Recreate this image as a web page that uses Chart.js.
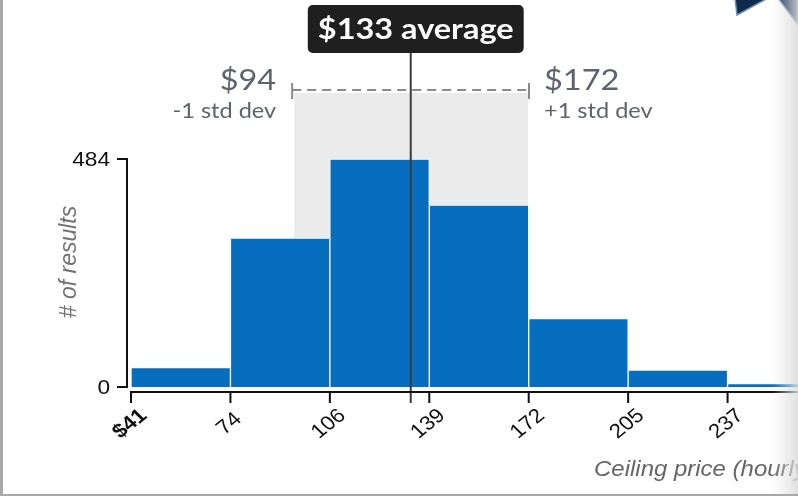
<!DOCTYPE html>
<html>
<head>
<meta charset="utf-8">
<script src="https://cdn.jsdelivr.net/npm/chart.js@4.4.0/dist/chart.umd.min.js"></script>
<style>
  html, body { margin: 0; padding: 0; background: #fff; overflow: hidden; width: 798px; height: 496px; }
  #wrap { position: absolute; left: 0; top: 0; width: 840px; height: 496px; }
  .edge-left { position: absolute; left: 0; top: 0; width: 3px; height: 496px; background: #a9a9a9; }
  .edge-bottom { position: absolute; left: 0; top: 494px; width: 798px; height: 2px; background: #a9a9a9; }
  .edge-right { position: absolute; left: 772px; top: 0; width: 26px; height: 496px;
    background: linear-gradient(to right, rgba(235,235,235,0), rgba(220,220,220,0.85)); }
  .badge { position: absolute; left: 728px; top: 0; }
</style>
</head>
<body>
<div id="wrap"><canvas id="hist"></canvas></div>
<svg class="badge" width="70" height="30">
  <polygon points="7,-2 9,15 40,-2" fill="#0e2a4c" stroke="#6d8fb5" stroke-width="1.5"/>
  <polygon points="50,-2 70,25 70,-2" fill="#0e2a4c" stroke="#6d8fb5" stroke-width="1.5"/>
</svg>
<div class="edge-right"></div>
<div class="edge-left"></div>
<div class="edge-bottom"></div>
<script>
// histogram bins (ceiling price, hourly)
const binLabels = ['$41', '74', '106', '139', '172', '205', '237'];
const binEdges = [41, 73.7, 106.4, 139.1, 171.9, 204.6, 237.3, 270];
const counts = [41, 316, 484, 386, 145, 36, 7];
const yTicks = [0, 484];

const average = 133;
const stdLow = 94;
const stdHigh = 172;

const BLUE = '#066dbf';
const GREY_TEXT = '#5d646d';
const STRETCH = 1.12; // source screenshot is a bit wide

// price -> pixel through the category scale (bin i spans i-0.5 .. i+0.5)
const priceToPixel = (scale, v) => {
  let i = 0;
  while (i < binEdges.length - 2 && v > binEdges[i + 1]) i++;
  const frac = (v - binEdges[i]) / (binEdges[i + 1] - binEdges[i]);
  return scale.getPixelForValue(i - 0.5 + frac);
};

const wideText = (ctx, text, x, y, align, sx = STRETCH) => {
  ctx.save();
  ctx.translate(x, y);
  ctx.scale(sx, 1);
  ctx.textAlign = align;
  ctx.fillText(text, 0, 0);
  ctx.restore();
};

const overlay = {
  id: 'overlay',
  beforeDatasetsDraw(chart) {
    const { ctx, scales: { x, y } } = chart;
    const x0 = priceToPixel(x, stdLow);
    const x1 = priceToPixel(x, stdHigh);
    ctx.save();
    ctx.fillStyle = '#ebebeb';
    ctx.fillRect(x0 + 2, 93, x1 - x0 - 3, y.getPixelForValue(0) - 93);
    ctx.restore();
  },
  afterDatasetsDraw(chart) {
    const { ctx, chartArea, scales: { x, y } } = chart;
    const x0 = priceToPixel(x, stdLow);
    const x1 = priceToPixel(x, stdHigh);
    const xa = priceToPixel(x, average);
    const y0 = y.getPixelForValue(0);
    ctx.save();

    // std dev bracket
    ctx.strokeStyle = '#8a8a8a';
    ctx.lineWidth = 2;
    ctx.setLineDash([9, 6]);
    ctx.beginPath();
    ctx.moveTo(x0, 90);
    ctx.lineTo(x1, 90);
    ctx.stroke();
    ctx.setLineDash([]);
    ctx.beginPath();
    ctx.moveTo(x0, 83); ctx.lineTo(x0, 99);
    ctx.moveTo(x1, 83); ctx.lineTo(x1, 99);
    ctx.stroke();

    ctx.fillStyle = GREY_TEXT;
    ctx.textBaseline = 'alphabetic';
    ctx.font = '29px Lato, "Open Sans", sans-serif';
    wideText(ctx, '$' + stdLow, x0 - 16, 90, 'right');
    wideText(ctx, '$' + stdHigh, x1 + 15, 90, 'left');
    ctx.font = '21px Lato, "Open Sans", sans-serif';
    wideText(ctx, '-1 std dev', x0 - 16, 118, 'right');
    wideText(ctx, '+1 std dev', x1 + 15, 118, 'left');

    // average line and label
    ctx.strokeStyle = '#3a3a3a';
    ctx.lineWidth = 2;
    ctx.beginPath();
    ctx.moveTo(xa, 53);
    ctx.lineTo(xa, y0 + 16);
    ctx.stroke();

    const label = '$' + average + ' average';
    ctx.font = 'bold 29px Lato, "Open Sans", sans-serif';
    const w = ctx.measureText(label).width * STRETCH + 20;
    const cx = xa + 5;
    ctx.fillStyle = '#1f1f1f';
    ctx.beginPath();
    ctx.roundRect(cx - w / 2, 5, w, 48, 5);
    ctx.fill();
    ctx.fillStyle = '#fff';
    ctx.textBaseline = 'middle';
    wideText(ctx, label, cx, 30, 'center');

    // axes
    ctx.strokeStyle = '#111';
    ctx.lineWidth = 2;
    const ax = chartArea.left - 4;
    ctx.beginPath();
    ctx.moveTo(ax, y.getPixelForValue(yTicks[1]));
    ctx.lineTo(ax, y0 + 1);
    yTicks.forEach(v => {
      const py = y.getPixelForValue(v);
      ctx.moveTo(ax - 10, py);
      ctx.lineTo(ax + 1, py);
    });
    const ay = y0 + 5;
    ctx.moveTo(priceToPixel(x, binEdges[0]) - 1, ay);
    ctx.lineTo(chartArea.right, ay);
    binLabels.forEach((_, i) => {
      const px = priceToPixel(x, binEdges[i]);
      ctx.moveTo(px, ay);
      ctx.lineTo(px, ay + 11);
    });
    ctx.stroke();

    // tick labels
    ctx.fillStyle = '#111';
    ctx.textBaseline = 'middle';
    ctx.font = '21px "Liberation Sans", Arial, sans-serif';
    yTicks.forEach(v => {
      wideText(ctx, String(v), ax - 17, y.getPixelForValue(v) + 1, 'right', 1.08);
    });
    ctx.textAlign = 'center';
    binLabels.forEach((t, i) => {
      const px = priceToPixel(x, binEdges[i]);
      ctx.save();
      ctx.translate(px - 1, ay + 32);
      ctx.scale(STRETCH, 1);
      ctx.rotate(-42 * Math.PI / 180);
      ctx.font = (i === 0 ? 'bold ' : '') + '20px "Liberation Sans", Arial, sans-serif';
      ctx.fillText(t, 0, 0);
      ctx.restore();
    });

    // axis titles
    ctx.fillStyle = '#737373';
    ctx.font = 'italic 23px "Liberation Sans", Arial, sans-serif';
    ctx.save();
    ctx.translate(70, 262);
    ctx.rotate(-Math.PI / 2);
    ctx.fillText('# of results', 0, 0);
    ctx.restore();
    ctx.fillStyle = '#666';
    ctx.font = 'italic 22px "Liberation Sans", Arial, sans-serif';
    ctx.textBaseline = 'alphabetic';
    wideText(ctx, 'Ceiling price (hourly)', 594, 476, 'left', 1.09);

    ctx.restore();
  }
};

new Chart(document.getElementById('hist'), {
  type: 'bar',
  plugins: [overlay],
  data: {
    labels: binLabels,
    datasets: [{
      data: counts,
      backgroundColor: BLUE,
      borderColor: '#ffffff',
      borderWidth: 1,
      borderSkipped: 'bottom',
      barPercentage: 1,
      categoryPercentage: 1
    }]
  },
  options: {
    responsive: true,
    maintainAspectRatio: false,
    animation: false,
    layout: { padding: { top: 159, bottom: 109, left: 0, right: 13 } },
    plugins: { legend: { display: false }, tooltip: { enabled: false } },
    scales: {
      x: { display: false },
      y: {
        min: 0,
        max: yTicks[1],
        afterBuildTicks: s => { s.ticks = yTicks.map(v => ({ value: v })); },
        afterFit: s => { s.width = 131; },
        grid: { display: false },
        border: { display: false },
        ticks: { display: false }
      }
    }
  }
});
</script>
</body>
</html>
